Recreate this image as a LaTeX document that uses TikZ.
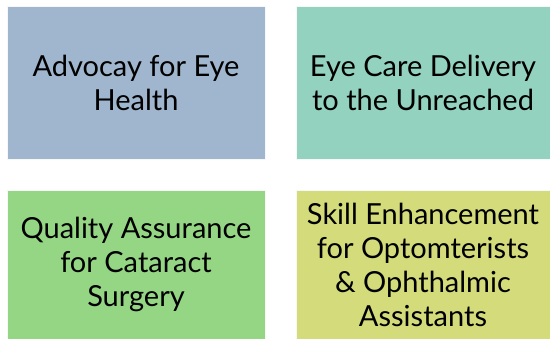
\documentclass[tikz,border=0pt]{standalone}
\usepackage{fontspec}
\setmainfont{Lato}
\usepackage{xcolor}
\usepackage{tikz}
\usetikzlibrary{positioning}
\definecolor{eyeblue}{RGB}{160,182,206}
\definecolor{eyeteal}{RGB}{147,210,190}
\definecolor{eyegreen}{RGB}{149,214,133}
\definecolor{eyeolive}{RGB}{211,219,122}

\begin{document}
\begin{tikzpicture}[
  x=1pt, y=-1pt,
  area/.style={draw=white!70!black!10, line width=0.6pt, align=center,
               font=\fontsize{29}{34}\selectfont, inner sep=2pt}
]
\useasboundingbox (0,0) rectangle (550,339);
\node[area, fill=eyeblue, minimum width=258pt, minimum height=153pt]
  (adv) at (136,82.5) {Advocay for Eye\\ Health};
\node[area, fill=eyeteal, minimum width=254pt, minimum height=153pt]
  (care) at (423,82.5) {Eye Care Delivery\\ to the Unreached};
\node[area, fill=eyegreen, minimum width=258pt, minimum height=149pt]
  (qual) at (136,264.5) {Quality Assurance\\ for Cataract\\ Surgery};
\node[area, fill=eyeolive, minimum width=254pt, minimum height=149pt]
  (skill) at (423,264.5) {Skill Enhancement\\ for Optomterists\\ \& Ophthalmic\\ Assistants};
\end{tikzpicture}
\end{document}
